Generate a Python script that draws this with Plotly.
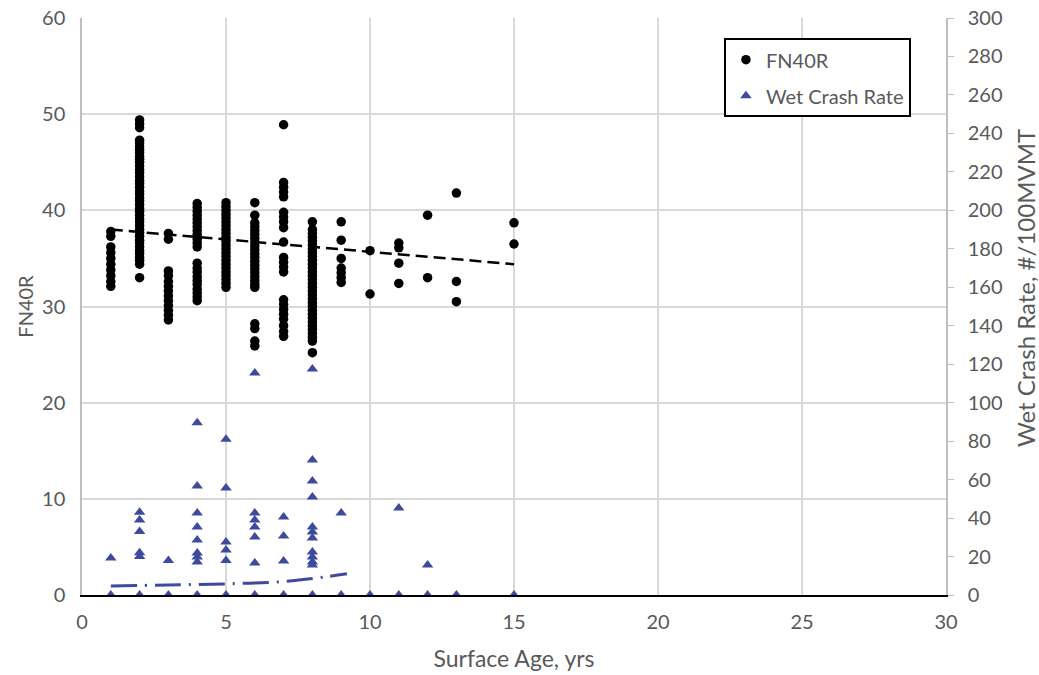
import plotly.graph_objects as go

# ---------------- data ----------------
fn40r_by_age = {
    1: [37.8, 37.3, 36.2, 35.6, 35.0, 34.4, 33.8, 33.2, 32.6, 32.1],
    2: [49.4, 49.0, 48.6, 47.3, 47.0, 46.6, 46.3, 46.0, 45.6, 45.3, 45.0, 44.6,
        44.2, 43.9, 43.5, 43.1, 42.8, 42.4, 42.0, 41.7, 41.3, 41.0, 40.6, 40.2,
        39.9, 39.5, 39.1, 38.8, 38.4, 38.0, 37.7, 37.3, 36.9, 36.6, 36.2, 35.8,
        35.5, 35.1, 34.8, 34.4, 33.0],
    3: [37.6, 37.0, 33.7, 33.2, 32.6, 32.1, 31.6, 31.1, 30.6, 30.1, 29.6, 29.1, 28.6],
    4: [40.7, 40.3, 39.9, 39.5, 39.1, 38.7, 38.3, 37.9, 37.5, 37.0, 36.6, 36.2,
        34.5, 34.0, 33.6, 33.1, 32.7, 32.3, 31.8, 31.4, 31.0, 30.6],
    5: [40.8, 40.4, 40.0, 39.6, 39.2, 38.8, 38.4, 38.0, 37.6, 37.2, 36.8, 36.4,
        36.0, 35.6, 35.2, 34.8, 34.4, 34.0, 33.6, 33.2, 32.8, 32.4, 32.0],
    6: [40.8, 39.5, 38.7, 38.3, 37.9, 37.5, 37.1, 36.7, 36.3, 35.9, 35.5, 35.1,
        34.7, 34.3, 33.9, 33.5, 33.1, 32.7, 32.3, 32.0, 28.2, 27.7, 26.4, 25.9],
    7: [48.9, 42.9, 42.4, 41.9, 41.4, 39.8, 39.3, 38.8, 38.2, 36.7, 35.1, 34.6,
        34.1, 33.6, 30.7, 30.2, 29.7, 29.2, 28.7, 28.0, 27.4, 26.9],
    8: [38.8, 38.0, 37.6, 37.2, 36.8, 36.4, 36.0, 35.6, 35.2, 34.8, 34.4, 34.0,
        33.6, 33.2, 32.8, 32.4, 32.0, 31.6, 31.2, 30.8, 30.4, 30.0, 29.6, 29.2,
        28.8, 28.4, 28.0, 27.6, 27.2, 26.8, 26.4, 25.2],
    9: [38.8, 36.9, 35.0, 34.0, 33.5, 33.0, 32.5],
    10: [35.8, 31.3],
    11: [36.6, 36.1, 34.5, 32.4],
    12: [39.5, 33.0],
    13: [41.8, 32.6, 30.5],
    15: [38.7, 36.5],
}

crash_by_age = {
    1: [19.2, 0],
    2: [43.0, 39.0, 33.0, 22.0, 20.0, 0],
    3: [18.0, 0],
    4: [89.5, 56.7, 42.6, 35.4, 28.6, 21.8, 19.8, 17.2, 0],
    5: [81.0, 55.6, 27.6, 23.4, 18.0, 0],
    6: [115.4, 42.6, 39.0, 35.4, 30.2, 16.6, 0],
    7: [40.6, 30.7, 17.7, 0],
    8: [117.5, 70.2, 59.3, 51.0, 35.4, 32.8, 29.6, 22.4, 19.8, 17.2, 15.6, 0],
    9: [42.6, 0],
    10: [0],
    11: [45.2, 0],
    12: [15.6, 0],
    13: [0],
    15: [0],
}

fn_trend_x = [1, 15]
fn_trend_y = [38.0, 34.4]

crash_trend_x = [1, 3, 5, 7, 8.5, 9.2]
crash_trend_y = [4.7, 5.2, 5.8, 7.0, 9.5, 11.0]

x_ticks = [0, 5, 10, 15, 20, 25, 30]

# ---------------- build ----------------
fn_x, fn_y = [], []
for age, vals in fn40r_by_age.items():
    fn_x += [age] * len(vals)
    fn_y += vals

cr_x, cr_y = [], []
for age, vals in crash_by_age.items():
    cr_x += [age] * len(vals)
    cr_y += vals

BLUE = "#3D4A9E"
GRAY = "#595959"
FONT = "Lato"

fig = go.Figure()

fig.add_trace(go.Scatter(
    x=fn_x, y=fn_y, mode="markers", name="FN40R",
    marker=dict(symbol="circle", size=9.5, color="black"),
    legendgroup="a",
))
fig.add_trace(go.Scatter(
    x=fn_trend_x, y=fn_trend_y, mode="lines", showlegend=False,
    line=dict(color="black", width=2.5, dash="12px,6px"),
))
fig.add_trace(go.Scatter(
    x=cr_x, y=cr_y, mode="markers", name="Wet Crash Rate", yaxis="y2",
    marker=dict(symbol="triangle-up", size=10, color=BLUE),
    legendgroup="b",
))
fig.add_trace(go.Scatter(
    x=crash_trend_x, y=crash_trend_y, mode="lines", showlegend=False,
    yaxis="y2", line=dict(color=BLUE, width=3, dash="26px,8px,2px,8px", shape="spline"),
))

fig.update_layout(
    width=1039, height=675,
    margin=dict(l=82, r=93, t=18, b=80),
    paper_bgcolor="white", plot_bgcolor="white",
    font=dict(family=FONT, size=20, color=GRAY),
    xaxis=dict(
        range=[0, 30], tickvals=x_ticks, showgrid=True, gridcolor="#d9d9d9",
        gridwidth=1.5, zeroline=False, showline=True, linecolor="black",
        linewidth=2, ticks="", ticklabelstandoff=8, automargin=False,
        tickfont=dict(size=20), ticklabeloverflow="allow",
        title=dict(text="Surface Age, yrs", standoff=19, font=dict(size=23)),
    ),
    yaxis=dict(
        range=[0, 60], dtick=10, showgrid=True, gridcolor="#d9d9d9",
        gridwidth=1.5, zeroline=False, showline=True, linecolor="#bfbfbf",
        linewidth=1.5, ticks="", ticklabelstandoff=11, automargin=False,
        tickfont=dict(size=20), ticklabeloverflow="allow",
        title=dict(text="FN40R", standoff=3, font=dict(size=20)),
    ),
    yaxis2=dict(
        range=[0, 300], dtick=20, overlaying="y", side="right",
        showgrid=False, zeroline=False, showline=True, linecolor="#bfbfbf",
        linewidth=1.5, ticks="outside", ticklen=6, tickcolor="#bfbfbf",
        ticklabelstandoff=10, automargin=False, tickfont=dict(size=20),
        ticklabeloverflow="allow",
    ),
    annotations=[dict(
        text="Wet Crash Rate, #/100MVMT", textangle=-90,
        xref="paper", yref="paper", x=1.0914, y=0.532,
        xanchor="center", yanchor="middle", showarrow=False,
        font=dict(size=24, color=GRAY, family=FONT),
    )],
    legend=dict(
        x=0.743, y=0.965, xanchor="left", yanchor="top",
        bordercolor="black", borderwidth=2, bgcolor="white",
        font=dict(size=20, color=GRAY), tracegroupgap=7,
        itemwidth=30,
    ),
)

fig.write_html("out.html", config={"displayModeBar": False},
               post_script="document.body.style.margin='0';")
